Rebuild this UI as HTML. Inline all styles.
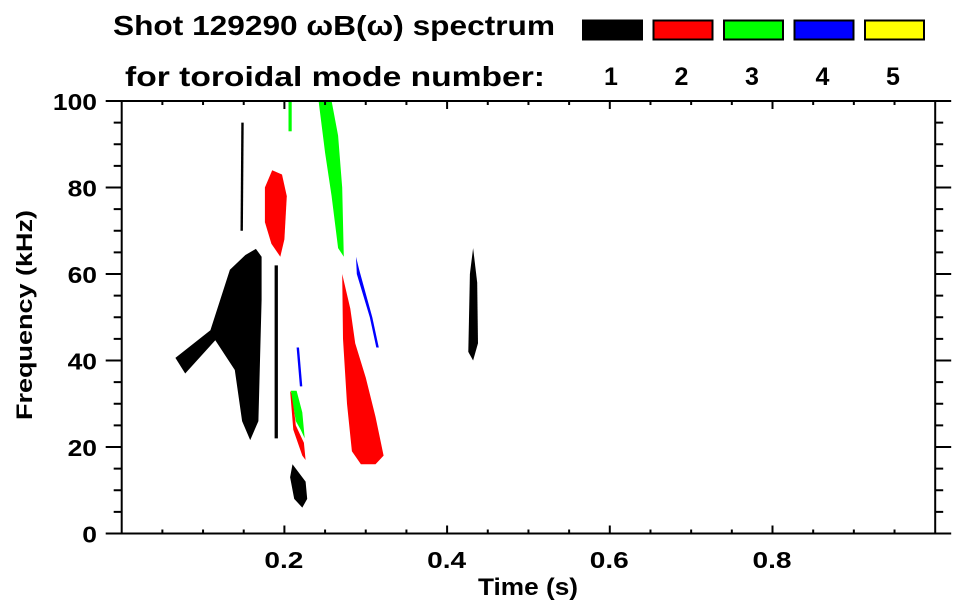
<!DOCTYPE html>
<html><head><meta charset="utf-8"><style>
body{margin:0;background:#fff}
svg{display:block;font-family:"Liberation Sans",Arial,sans-serif;font-weight:bold}
</style></head><body>
<svg id="chart" width="963" height="615" viewBox="0 0 963 615" xmlns="http://www.w3.org/2000/svg">
<text x="113" y="35" font-size="28" textLength="442" lengthAdjust="spacingAndGlyphs" fill="#000">Shot 129290 ωB(ω) spectrum</text>
<text x="125" y="86" font-size="28" textLength="420" lengthAdjust="spacingAndGlyphs" fill="#000">for toroidal mode number:</text>
<g id="legend"></g>
<g id="marks"></g>
<g id="axes"></g>
<text x="478" y="595" font-size="24" textLength="100" lengthAdjust="spacingAndGlyphs">Time (s)</text>
<text transform="translate(32,315) rotate(-90)" font-size="22" text-anchor="middle" textLength="210" lengthAdjust="spacingAndGlyphs">Frequency (kHz)</text>
</svg>
<script>
const modeLabels=["1","2","3","4","5"];
const modeColors=["#000000","#ff0000","#00ff00","#0000ff","#ffff00"];
const xTicks=[0.2,0.4,0.6,0.8];
const yTicks=[0,20,40,60,80,100];
// blobs: [modeIndex, [t,f, t,f, ...]]
const blobMode=[0,0,0,0,0,1,1,1,2,2,2,3,3,0];
const blobPts=[
 [0.066,40.6,0.109,47,0.133,61,0.152,64.4,0.165,65.8,0.172,64,0.172,54,0.168,26,0.158,21.6,0.148,26,0.139,37.8,0.115,44.7,0.078,37],
 [0.207,13,0.212,8,0.222,6,0.228,8,0.226,12,0.216,14.5,0.21,16],
 [0.426,42,0.432,40,0.438,44,0.437,58,0.432,66,0.428,60],
 [0.188,22,0.192,22,0.192,62,0.188,62],
 [0.146,70,0.149,70,0.150,95,0.147,95],
 [0.176,80,0.185,84,0.197,83,0.203,78,0.200,68,0.195,64,0.184,67,0.176,72],
 [0.207,33,0.211,24,0.222,18,0.226,17,0.224,21,0.214,25,0.210,32],
 [0.271,60,0.281,52,0.287,44,0.300,36,0.312,27,0.322,18,0.312,16,0.294,16,0.283,19,0.277,30,0.272,45],
 [0.242,100,0.258,100,0.266,92,0.271,80,0.273,64,0.266,66,0.258,78,0.250,88],
 [0.208,33,0.214,26,0.220,24,0.225,22,0.222,28,0.215,33],
 [0.205,93,0.209,93,0.209,100,0.205,100],
 [0.288,64,0.292,61,0.308,50,0.316,43,0.313,43,0.305,50,0.289,60],
 [0.215,43,0.218,43,0.222,34,0.219,34],
 [0.428,45,0.430,45,0.430,51,0.428,51]
];
const X0=121.7,X1=935.2,Y0=533.5,Y1=101;
const xs=t=>X0+t*(X1-X0);
const ys=f=>Y0-f/100*(Y0-Y1);
const NS="http://www.w3.org/2000/svg";
function mk(tag,attrs,parent){const e=document.createElementNS(NS,tag);for(const k in attrs)e.setAttribute(k,attrs[k]);parent.appendChild(e);return e;}
const lg=document.getElementById('legend');
modeLabels.forEach((lab,i)=>{
 const x=583+i*70.5;
 const r=mk('rect',{x:x,y:20.5,width:59,height:19,fill:modeColors[i],stroke:'#000','stroke-width':2},lg);
 
 
 const t=mk('text',{x:x+28,y:85,'font-size':25,'text-anchor':'middle'},lg);
 t.textContent=lab;
 
 
});
const mg=document.getElementById('marks');
blobPts.forEach((pts,i)=>{
 let s=[];for(let j=0;j<pts.length;j+=2)s.push(xs(pts[j]).toFixed(1)+','+ys(pts[j+1]).toFixed(1));
 const p=mk('polygon',{points:s.join(' '),fill:modeColors[blobMode[i]]},mg);
 
 
});
const ax=document.getElementById('axes');
const st={stroke:'#000','stroke-width':2};
const frame=mk('rect',{x:X0,y:Y1,width:X1-X0,height:Y0-Y1,fill:'none',stroke:'#000','stroke-width':2},ax);


for(let k=1;k<20;k++){const t=k*0.05,x=xs(t),L=(k%4===0)?8:4;
 mk('line',Object.assign({x1:x,x2:x,y1:Y0,y2:Y0-L},st),ax);
 mk('line',Object.assign({x1:x,x2:x,y1:Y1,y2:Y1+L},st),ax);}
for(let k=0;k<=20;k++){const f=k*5,y=ys(f),L=(k%4===0)?16:8;
 mk('line',Object.assign({x1:X0,x2:X0-L,y1:y,y2:y},st),ax);
 mk('line',Object.assign({x1:X1,x2:X1+L,y1:y,y2:y},st),ax);}
xTicks.forEach(v=>{const t=mk('text',{x:xs(v)-20,y:568,'font-size':23,textLength:39,lengthAdjust:'spacingAndGlyphs'},ax);t.textContent=v.toFixed(1);
 
 });
yTicks.forEach(v=>{const s=String(v);const t=mk('text',{x:97-s.length*14.7,y:ys(v)+9,'font-size':23,textLength:s.length*14.7,lengthAdjust:'spacingAndGlyphs'},ax);t.textContent=s;
 
 });
</script>
</body></html>
